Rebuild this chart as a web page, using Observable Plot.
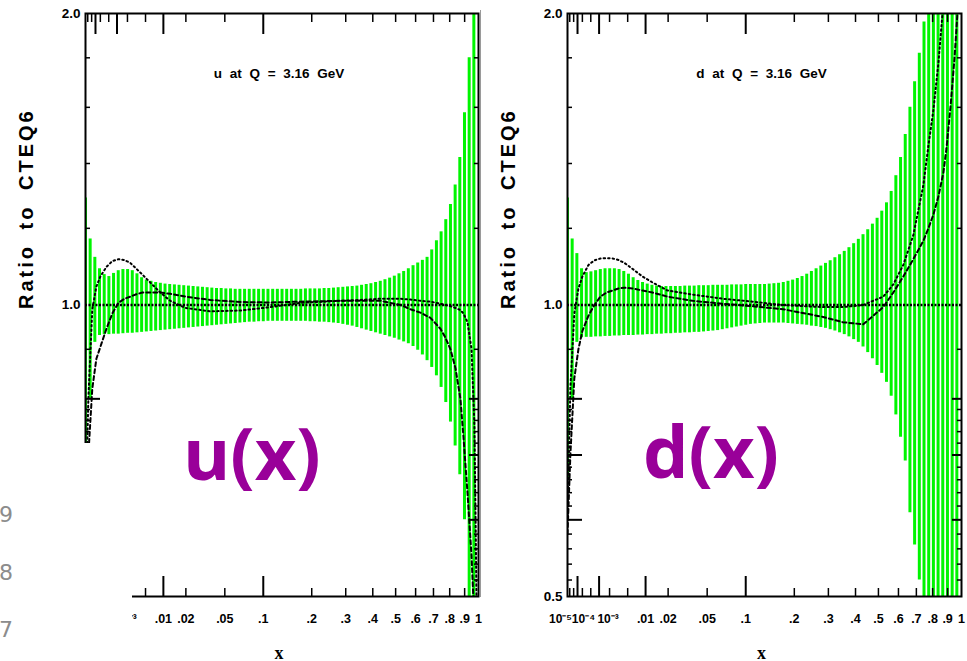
<!DOCTYPE html>
<html>
<head>
<meta charset="utf-8">
<script src="https://cdn.jsdelivr.net/npm/d3@7"></script>
<script src="https://cdn.jsdelivr.net/npm/@observablehq/plot@0.6"></script>
<style>
  body { margin: 0; background: #fff; }
  #wrap { position: relative; width: 967px; height: 661px; overflow: hidden; background: #fff; }
  .panel { position: absolute; top: 0; }
  #overlay { position: absolute; left: 0; top: 0; pointer-events: none; }
</style>
</head>
<body>
<div id="wrap"></div>
<script>
// ---------- data ----------
// x positions of the error-band bars
const xGrid = [1e-5, 3.64e-5, 8.99e-5, 1.80e-4, 3.16e-4, 5.07e-4, 7.63e-4, 1.094e-3, 1.509e-3, 2.017e-3,
  2.628e-3, 3.351e-3, 4.196e-3, 5.172e-3, 6.29e-3, 7.557e-3, 8.985e-3, 0.01058, 0.01236, 0.01432,
  0.01648, 0.01885, 0.02144, 0.02425, 0.0273, 0.03059, 0.03414, 0.03795, 0.04203, 0.0464,
  0.05106, 0.05602, 0.0613, 0.06689, 0.07282, 0.07909, 0.0857, 0.09268, 0.1, 0.1077,
  0.1159, 0.1244, 0.1333, 0.1426, 0.1524, 0.1625, 0.1732, 0.1843, 0.1958, 0.2078,
  0.2203, 0.2333, 0.2468, 0.2608, 0.2754, 0.2904, 0.306, 0.3222, 0.3389, 0.3562,
  0.374, 0.3925, 0.4115, 0.4311, 0.4514, 0.4723, 0.4938, 0.5159, 0.5387, 0.5622,
  0.5864, 0.6112, 0.6367, 0.6629, 0.6898, 0.7175, 0.7459, 0.775, 0.8049, 0.8355,
  0.8668, 0.899, 0.932, 0.9657];

// u-quark error band (upper / lower ratio)
const uHi = [1.29, 1.17, 1.12, 1.09, 1.075, 1.07, 1.078, 1.085, 1.088, 1.088,
  1.085, 1.077, 1.067, 1.061, 1.058, 1.055, 1.053, 1.051, 1.05, 1.049,
  1.048, 1.047, 1.046, 1.045, 1.044, 1.043, 1.042, 1.041, 1.04, 1.04,
  1.039, 1.039, 1.038, 1.038, 1.038, 1.038, 1.038, 1.038, 1.038, 1.038,
  1.038, 1.038, 1.038, 1.038, 1.038, 1.038, 1.038, 1.039, 1.039, 1.039,
  1.039, 1.04, 1.04, 1.041, 1.042, 1.043, 1.044, 1.045, 1.046, 1.048,
  1.05, 1.052, 1.055, 1.058, 1.062, 1.066, 1.071, 1.077, 1.083, 1.09,
  1.098, 1.105, 1.112, 1.12, 1.14, 1.165, 1.19, 1.225, 1.27, 1.33,
  1.42, 1.58, 1.8, 2.2];
const uLo = [0.66, 0.80, 0.915, 0.93, 0.932, 0.932, 0.933, 0.933, 0.934, 0.935,
  0.935, 0.936, 0.937, 0.938, 0.939, 0.94, 0.941, 0.942, 0.943, 0.944,
  0.945, 0.946, 0.947, 0.948, 0.949, 0.95, 0.951, 0.952, 0.953, 0.954,
  0.955, 0.956, 0.957, 0.958, 0.959, 0.96, 0.96, 0.961, 0.961, 0.962,
  0.962, 0.962, 0.962, 0.962, 0.962, 0.962, 0.962, 0.962, 0.961, 0.961,
  0.96, 0.96, 0.959, 0.958, 0.957, 0.955, 0.953, 0.951, 0.948, 0.945,
  0.942, 0.939, 0.936, 0.933, 0.93, 0.927, 0.924, 0.92, 0.916, 0.912,
  0.906, 0.898, 0.888, 0.876, 0.862, 0.845, 0.822, 0.793, 0.757, 0.715,
  0.668, 0.60, 0.48, 0.40];

// d-quark error band (upper / lower ratio)
const dHi = [1.29, 1.17, 1.13, 1.09, 1.08, 1.082, 1.085, 1.088, 1.09, 1.09,
  1.09, 1.088, 1.083, 1.076, 1.067, 1.06, 1.055, 1.051, 1.048, 1.046,
  1.045, 1.045, 1.045, 1.045, 1.045, 1.046, 1.046, 1.046, 1.047, 1.047,
  1.047, 1.048, 1.048, 1.048, 1.048, 1.049, 1.049, 1.049, 1.05, 1.05,
  1.05, 1.05, 1.05, 1.051, 1.052, 1.053, 1.055, 1.058, 1.061, 1.065,
  1.07, 1.076, 1.083, 1.09, 1.097, 1.104, 1.111, 1.119, 1.127, 1.136,
  1.146, 1.157, 1.169, 1.182, 1.196, 1.212, 1.229, 1.25, 1.275, 1.31,
  1.36, 1.42, 1.5, 1.6, 1.7, 1.82, 1.96, 2.2, 2.4, 2.6,
  2.8, 3.0, 3.2, 3.4];
const dLo = [0.66, 0.80, 0.915, 0.925, 0.926, 0.926, 0.927, 0.927, 0.928, 0.928,
  0.929, 0.929, 0.93, 0.93, 0.93, 0.931, 0.931, 0.932, 0.932, 0.933,
  0.933, 0.934, 0.934, 0.935, 0.935, 0.936, 0.936, 0.937, 0.937, 0.938,
  0.939, 0.94, 0.941, 0.943, 0.945, 0.947, 0.949, 0.951, 0.953, 0.955,
  0.956, 0.957, 0.958, 0.958, 0.958, 0.958, 0.958, 0.957, 0.956, 0.955,
  0.954, 0.953, 0.951, 0.95, 0.948, 0.946, 0.943, 0.94, 0.936, 0.932,
  0.927, 0.921, 0.915, 0.905, 0.893, 0.88, 0.866, 0.85, 0.832, 0.805,
  0.77, 0.73, 0.69, 0.61, 0.565, 0.52, 0.47, 0.44, 0.42, 0.4,
  0.4, 0.4, 0.4, 0.4];

// sample points of the two comparison curves
const curveX = [1e-5, 2.35e-5, 5.7e-5, 1.15e-4, 2e-4, 4e-4, 6.9e-4, 1.1e-3, 1.66e-3, 2.37e-3,
  3.25e-3, 4.34e-3, 6.1e-3, 9e-3, 0.0126, 0.0197, 0.0368, 0.0675, 0.112, 0.1725,
  0.283, 0.35, 0.432, 0.523, 0.573, 0.626, 0.682, 0.742, 0.773, 0.805,
  0.838, 0.871, 0.892, 0.92, 0.949, 0.97, 0.985];
const uDotted = [0.6, 0.8, 0.99, 1.045, 1.07, 1.095, 1.11, 1.115, 1.113, 1.105,
  1.09, 1.075, 1.055, 1.03, 1.01, 0.993, 0.985, 0.987, 0.995, 1.005,
  1.01, 1.012, 1.015, 1.015, 1.013, 1.01, 1.008, 1.003, 1.0, 0.997,
  0.993, 0.988, 0.98, 0.96, 0.9, 0.75, 0.5];
const uDashed = [0.6, 0.7, 0.82, 0.88, 0.905, 0.945, 0.98, 1.005, 1.015, 1.02,
  1.026, 1.03, 1.03, 1.03, 1.027, 1.02, 1.012, 1.007, 1.006, 1.008,
  1.01, 1.01, 1.01, 1.0, 0.99, 0.982, 0.97, 0.945, 0.925, 0.9,
  0.86, 0.8, 0.73, 0.64, 0.55, 0.47, 0.42];
const dDotted = [0.6, 0.82, 0.98, 1.04, 1.07, 1.1, 1.112, 1.117, 1.118, 1.117,
  1.113, 1.105, 1.09, 1.07, 1.055, 1.035, 1.025, 1.015, 1.008, 1.0,
  0.995, 0.995, 1.0, 1.02, 1.05, 1.1, 1.18, 1.33, 1.46, 1.59,
  1.78, 2.05, 2.3, 2.6, 3.0, 3.2, 3.4];
const dDashed = [0.58, 0.7, 0.84, 0.9, 0.94, 0.975, 1.0, 1.02, 1.03, 1.035,
  1.04, 1.042, 1.04, 1.035, 1.03, 1.02, 1.01, 1.003, 0.997, 0.99,
  0.972, 0.96, 0.955, 0.995, 1.03, 1.07, 1.115, 1.165, 1.2, 1.24,
  1.295, 1.37, 1.45, 1.6, 1.8, 2.0, 2.2];

// axes
const xMajorTicks = [1e-4, 1e-3, 0.01, 0.1];
const xMinorTicks = [2e-5, 5e-5, 2e-4, 5e-4, 2e-3, 5e-3, 0.02, 0.05, 0.2, 0.3, 0.4, 0.5, 0.6, 0.7, 0.8, 0.9];
const xLabelValues = [0.01, 0.02, 0.05, 0.1, 0.2, 0.3, 0.4, 0.5, 0.6, 0.7, 0.8, 0.9, 1];
const xLabels = [".01", ".02", ".05", ".1", ".2", ".3", ".4", ".5", ".6", ".7", ".8", ".9", "1"];
const xPowerValues = [1e-5, 1e-4, 1e-3];
const xPowerLabels = ["10\u207B\u2075", "10\u207B\u2074", "10\u207B\u00B3"];
const yLabelValues = [0.5, 1, 2];
const yLabels = ["0.5", "1.0", "2.0"];
const yMajorTicks = [0.6, 0.7, 0.8];
const yMinorTicks = [0.52, 0.54, 0.56, 0.58, 0.62, 0.64, 0.66, 0.68, 0.72, 0.74, 0.76, 0.78, 0.9, 1.2, 1.4, 1.6, 1.8];
const yTitle = "Ratio to CTEQ6";
const xTitle = "x";
const panelTitles = ["u at Q = 3.16 GeV", "d at Q = 3.16 GeV"];
const bigLabels = ["u(x)", "d(x)"];
const strayDigits = ["9", "8", "7"];

// ---------- drawing ----------
const GREEN = "#00f500";
const BOLD = "Liberation Sans, Arial, sans-serif";

function makePanel({hi, lo, dotted, dashed, title, width, marginRight}) {
  const n = Math.min(xGrid.length, hi.length, lo.length);
  const bars = d3.range(n).map(i => ({x: xGrid[i], lo: lo[i], hi: hi[i]}));
  const cA = curveX.map((x, i) => ({x, y: dotted[i]}));
  const cB = curveX.map((x, i) => ({x, y: dashed[i]}));
  const xl = xLabelValues.map((x, i) => ({x, t: xLabels[i]}));
  const yl = yLabelValues.map((y, i) => ({y, t: yLabels[i]}));
  const pw = (i, dx) => Plot.text([{x: xPowerValues[i], t: xPowerLabels[i]}], {
    x: "x", text: "t", frameAnchor: "bottom", dy: 26, dx, fontSize: 12, fontWeight: "bold", fontFamily: BOLD, fill: "black"
  });
  const blank = () => "";
  return Plot.plot({
    width, height: 661,
    marginLeft: 85, marginRight, marginTop: 13, marginBottom: 65,
    x: {type: "pow", exponent: 1 / 3, domain: [1e-5, 1]},
    y: {type: "log", domain: [0.5, 2]},
    style: {background: "transparent", fontFamily: BOLD, overflow: "visible"},
    marks: [
      Plot.ruleX(bars, {x: "x", y1: "lo", y2: "hi", stroke: GREEN, strokeWidth: 3, clip: true}),
      Plot.ruleY([1], {stroke: "black", strokeWidth: 2.4, strokeDasharray: "2,1.5"}),
      Plot.line(cA, {x: "x", y: "y", stroke: "black", strokeWidth: 2, strokeDasharray: "1.5,3", clip: true}),
      Plot.line(cB, {x: "x", y: "y", stroke: "black", strokeWidth: 2, strokeDasharray: "4,3", clip: true}),
      Plot.frame({stroke: "black", strokeWidth: 2}),
      // x ticks, inward, bottom and top
      Plot.axisX({anchor: "bottom", ticks: xMajorTicks, tickSize: -20, strokeWidth: 2, tickFormat: blank, label: null}),
      Plot.axisX({anchor: "bottom", ticks: xMinorTicks, tickSize: -8, strokeWidth: 1.5, tickFormat: blank, label: null}),
      Plot.axisX({anchor: "top", ticks: xMajorTicks, tickSize: -20, strokeWidth: 2, tickFormat: blank, label: null}),
      Plot.axisX({anchor: "top", ticks: xMinorTicks, tickSize: -8, strokeWidth: 1.5, tickFormat: blank, label: null}),
      // y ticks, inward, left and right
      Plot.axisY({anchor: "left", ticks: yMajorTicks, tickSize: -15, strokeWidth: 2, tickFormat: blank, label: null}),
      Plot.axisY({anchor: "left", ticks: yMinorTicks, tickSize: -5, strokeWidth: 1.5, tickFormat: blank, label: null}),
      Plot.axisY({anchor: "right", ticks: yMajorTicks, tickSize: -10, strokeWidth: 2, tickFormat: blank, label: null}),
      Plot.axisY({anchor: "right", ticks: yMinorTicks, tickSize: -5, strokeWidth: 1.5, tickFormat: blank, label: null}),
      // tick labels
      Plot.text(xl, {x: "x", text: "t", frameAnchor: "bottom", dy: 26, fontSize: 12.5, fontWeight: "bold", fontFamily: BOLD, fill: "black"}),
      pw(0, -7), pw(1, 6), pw(2, 9),
      Plot.text(yl, {y: "y", text: "t", frameAnchor: "left", dx: -5, textAnchor: "end", fontSize: 13.5, fontWeight: "bold", fontFamily: BOLD, fill: "black"}),
      // titles
      Plot.text([yTitle], {text: d => d, frameAnchor: "left", dx: -59, dy: 4, rotate: -90, fontSize: 20, fontWeight: "bold", fontFamily: BOLD, fill: "black"}),
      Plot.text([xTitle], {text: d => d, frameAnchor: "bottom", dx: -3, dy: 62, fontSize: 18, fontWeight: "bold", fontFamily: "Liberation Serif, serif", fill: "black"}),
      Plot.text([title], {text: d => d, frameAnchor: "top", dx: -3, dy: 55, fontSize: 13.5, fontWeight: "bold", fontFamily: BOLD, fill: "black"})
    ]
  });
}

const wrap = document.getElementById("wrap");

const left = makePanel({hi: uHi, lo: uLo, dotted: uDotted, dashed: uDashed, title: panelTitles[0], width: 482, marginRight: 4});
left.classList.add("panel"); left.style.left = "0px";
wrap.appendChild(left);

const right = makePanel({hi: dHi, lo: dLo, dotted: dDotted, dashed: dDashed, title: panelTitles[1], width: 485, marginRight: 6});
right.classList.add("panel"); right.style.left = "482px";
wrap.appendChild(right);

// letter spacing for the y-axis titles and titles
d3.selectAll("#wrap svg text").each(function () {
  const t = this.textContent;
  if (t === yTitle) d3.select(this).style("letter-spacing", "3px").style("word-spacing", "6px");
  if (panelTitles.includes(t)) d3.select(this).style("word-spacing", "4px");
});

// overlay: the pasted-slide leftovers and the big purple labels
const ov = d3.select(wrap).append("svg").attr("id", "overlay").attr("width", 967).attr("height", 661);
ov.append("rect").attr("x", 0).attr("y", 443).attr("width", 132).attr("height", 218).attr("fill", "white");
ov.append("line").attr("x1", 480.5).attr("x2", 480.5).attr("y1", 10).attr("y2", 597).attr("stroke", "#9a9a9a").attr("stroke-width", 1);
ov.selectAll("text.stray").data(strayDigits).join("text").attr("class", "stray")
  .attr("x", -1).attr("y", (d, i) => [522, 580, 637][i])
  .attr("font-family", "DejaVu Sans, sans-serif").attr("font-size", 22).attr("fill", "#8c8c8c").text(d => d);
ov.selectAll("text.big").data(bigLabels).join("text").attr("class", "big")
  .attr("x", (d, i) => [183, 643][i]).attr("y", (d, i) => [480, 478][i])
  .attr("font-family", "Open Sans, sans-serif").attr("font-weight", 700).attr("font-size", 72)
  .attr("fill", "#990099").text(d => d);
</script>
</body>
</html>
